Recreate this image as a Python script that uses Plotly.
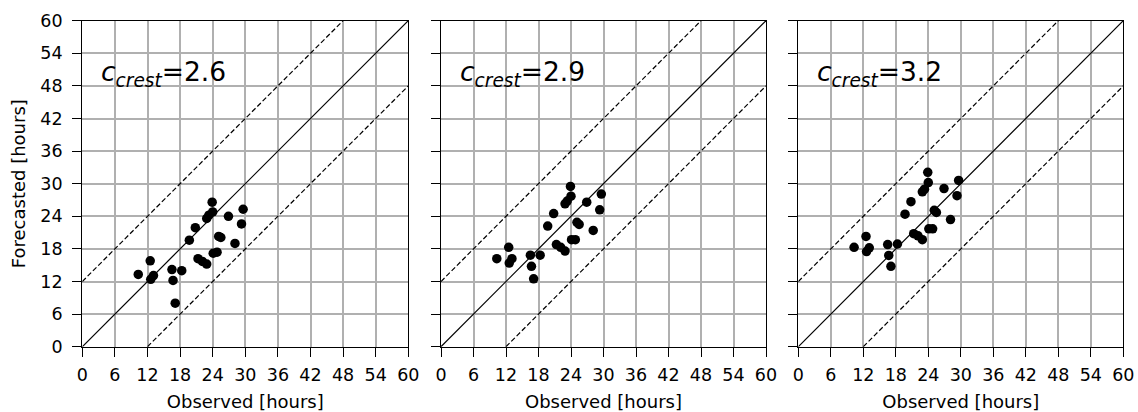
import plotly.graph_objects as go

# Observed durations (same events for all panels)
observed = [10.3, 12.5, 12.6, 13.1, 16.5, 16.7, 17.1, 18.3, 19.7, 20.8, 21.3, 22.1, 22.9,
            22.9, 23.3, 24.0, 23.9, 24.1, 24.8, 25.1, 25.5, 26.9, 28.1, 29.3, 29.6]

forecast_26 = [13.3, 15.8, 12.4, 13.1, 14.2, 12.2, 8.0, 14.0, 19.6, 21.9, 16.2, 15.7, 15.2,
               23.6, 24.2, 24.8, 26.6, 17.2, 17.4, 20.3, 20.1, 24.0, 19.0, 22.6, 25.3]
forecast_29 = [16.2, 18.3, 15.4, 16.2, 16.85, 14.8, 12.5, 16.85, 22.2, 24.5, 18.8, 18.3, 17.6,
               26.3, 26.8, 27.7, 29.5, 19.7, 19.7, 22.9, 22.5, 26.6, 21.4, 25.2, 28.1]
forecast_32 = [18.3, 20.3, 17.5, 18.2, 18.8, 16.8, 14.8, 18.9, 24.4, 26.7, 20.8, 20.4, 19.7,
               28.5, 29.0, 30.2, 32.1, 21.7, 21.7, 25.1, 24.7, 29.1, 23.4, 27.8, 30.6]

c_values = ["2.6", "2.9", "3.2"]
forecasts = [forecast_26, forecast_29, forecast_32]

tick_vals = [0, 6, 12, 18, 24, 30, 36, 42, 48, 54, 60]
band_offsets = [0, 12, -12]

W, H = 1138, 412
x_px = [(82.3, 408.3), (441.0, 766.0), (798.3, 1123.3)]
y_px = (20.7, 346.7)
ydom = [1 - y_px[1] / H, 1 - y_px[0] / H]

FONT = "DejaVu Sans"
fig = go.Figure()

for i in range(3):
    xa = "x" if i == 0 else f"x{i+1}"
    ya = "y" if i == 0 else f"y{i+1}"
    # reference lines y = x + offset
    for off in band_offsets:
        lx = [max(0, -off), min(60, 60 - off)]
        ly = [v + off for v in lx]
        fig.add_trace(go.Scatter(
            x=lx, y=ly, mode="lines", xaxis=xa, yaxis=ya, showlegend=False,
            line=dict(color="black", width=1.2, dash="solid" if off == 0 else "5px,2.5px"),
            hoverinfo="skip"))
    fig.add_trace(go.Scatter(
        x=observed, y=forecasts[i], mode="markers", xaxis=xa, yaxis=ya, showlegend=False,
        marker=dict(color="black", size=9.5, line=dict(width=0))))

    axis_common = dict(
        range=[0, 60], tickvals=tick_vals, ticks="outside", ticklen=9, tickwidth=1.3,
        tickcolor="black", showline=True, linecolor="black", linewidth=1.4, mirror=True,
        showgrid=True, gridcolor="#b0b0b0", gridwidth=1.6, zeroline=False,
        tickfont=dict(family=FONT, size=17.5, color="black"), automargin=False,
        fixedrange=True)
    xd = [x_px[i][0] / W, x_px[i][1] / W]
    fig.layout[f"xaxis{'' if i == 0 else i+1}"] = dict(
        axis_common, domain=xd, anchor=ya, ticklabelstandoff=3,
        title=dict(text="Observed [hours]", font=dict(family=FONT, size=18, color="black"),
                   standoff=11))
    ydict = dict(axis_common, domain=ydom, anchor=xa, showticklabels=(i == 0),
                 ticklabelstandoff=6)
    if i == 0:
        ydict["title"] = dict(text="Forecasted [hours]",
                              font=dict(family=FONT, size=18, color="black"), standoff=10)
    fig.layout[f"yaxis{'' if i == 0 else i+1}"] = ydict

    fig.add_annotation(
        x=3.1, y=50.3, xref=xa, yref=ya, xanchor="left", yanchor="middle",
        text=f"<i>c</i><sub><i>crest</i></sub>=" + c_values[i], showarrow=False,
        font=dict(family=FONT, size=26.5, color="black"))

fig.update_layout(
    width=W, height=H, margin=dict(l=0, r=0, t=0, b=0),
    paper_bgcolor="white", plot_bgcolor="white", showlegend=False)

fig.write_html("out.html")
